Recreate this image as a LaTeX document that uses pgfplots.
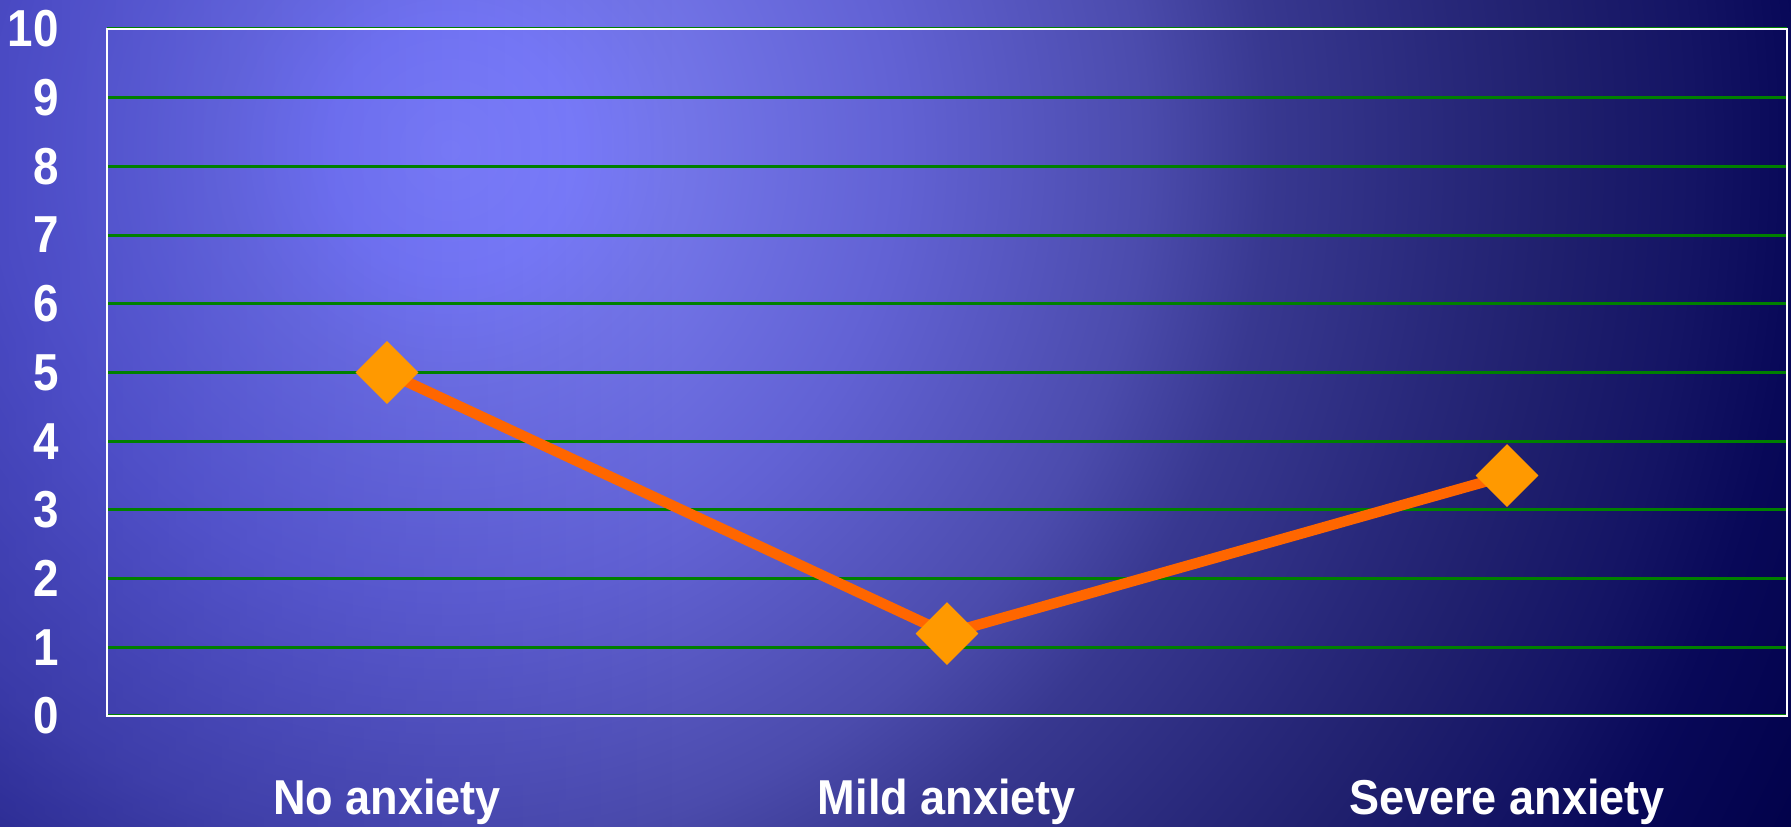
\documentclass[border=0pt]{standalone}
\usepackage{pgfplots}
\pgfplotsset{compat=1.18}
\usetikzlibrary{fadings}
\usepackage{fontspec}
\setmainfont{Liberation Sans}[FakeStretch=0.88]
\newfontfamily\catfont{Liberation Sans}[FakeStretch=0.92]

% slide background, light centre upper left, navy towards the edges
\definecolor{bg0}{RGB}{130,132,255}
\definecolor{bg1}{RGB}{124,126,252}
\definecolor{bg2}{RGB}{115,117,232}
\definecolor{bg3}{RGB}{98,98,212}
\definecolor{bg4}{RGB}{75,75,172}
\definecolor{bg5}{RGB}{56,56,144}
\definecolor{bg6}{RGB}{40,40,122}
\definecolor{bg7}{RGB}{32,32,110}
\definecolor{bg8}{RGB}{20,20,100}
\definecolor{bg9}{RGB}{8,8,88}
\definecolor{bg10}{RGB}{2,2,75}
\pgfdeclareradialshading{slidebg}{\pgfpointorigin}{color(0bp)=(bg0); color(1.9bp)=(bg1); color(3.6bp)=(bg2); color(7bp)=(bg3); color(10.9bp)=(bg4); color(12.8bp)=(bg5); color(15.6bp)=(bg6); color(17.2bp)=(bg7); color(19.4bp)=(bg8); color(21.1bp)=(bg9); color(23.4bp)=(bg10); color(50bp)=(bg10)}
\definecolor{leftdark}{RGB}{20,20,160}
\tikzfading[name=fadeleft, left color=transparent!0, right color=transparent!100]

\definecolor{gridgreen}{RGB}{0,128,0}
\definecolor{lineorange}{RGB}{255,102,0}
\definecolor{markorange}{RGB}{255,153,0}

\begin{document}
\begin{tikzpicture}
  \useasboundingbox (0pt,0pt) rectangle (716.4pt,330.8pt);
  \begin{scope}
    \clip (0pt,0pt) rectangle (716.4pt,330.8pt);
    \shade[shading=slidebg] (-460pt,-369.2pt) rectangle (820pt,910.8pt);
    \fill[leftdark, fill opacity=0.4, path fading=fadeleft] (-90pt,0pt) rectangle (270pt,330.8pt);
  \end{scope}
  \begin{axis}[
    at={(42.8pt,44.4pt)}, anchor=south west,
    scale only axis,
    width=672pt, height=274.8pt,
    xmin=-0.5, xmax=2.5,
    ymin=0, ymax=10,
    xtick={0,1,2},
    xticklabels={No anxiety, Mild anxiety, Severe anxiety},
    ytick={0,1,...,10},
    yticklabels={0,1,2,3,4,5,6,7,8,9,10},
    major tick length=0pt,
    axis line style={white, line width=1.1pt},
    ymajorgrids,
    major grid style={gridgreen, line width=1.2pt},
    yticklabel style={font=\bfseries\fontsize{20.8}{24}\selectfont, white,
      anchor=east, inner sep=0pt, xshift=-19.2pt},
    xticklabel style={font=\catfont\bfseries\fontsize{19.6}{23}\selectfont, white,
      anchor=base, inner sep=0pt, yshift=-39.6pt},
    clip=false,
  ]
  \addplot[lineorange, line width=4.2pt, mark=square*,
    mark size=8.8pt, mark options={solid, draw=markorange, fill=markorange,
      line width=0.1pt, rotate=45}]
    coordinates {(0,5.0) (1,1.2) (2,3.5)};
  \end{axis}
\end{tikzpicture}
\end{document}
